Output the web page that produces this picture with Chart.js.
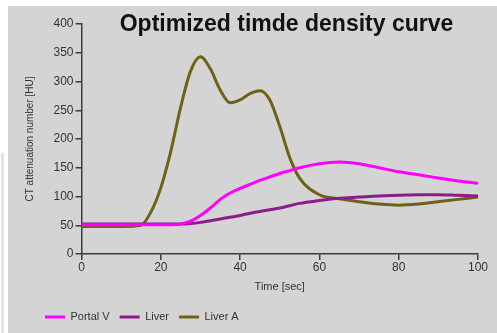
<!DOCTYPE html>
<html>
<head>
<meta charset="utf-8">
<script src="https://cdn.jsdelivr.net/npm/chart.js@4"></script>
<style>
  body { margin: 0; background: #ffffff; width: 497px; height: 333px; overflow: hidden; position: relative; }
  #strip { position: absolute; left: 1px; top: 153px; width: 3px; height: 180px; background: #e3e3e3; }
  #panel { position: absolute; left: 8px; top: 6px; width: 489px; height: 327px; background: #d4d4d4; }
</style>
</head>
<body>
<div id="strip"></div>
<div id="panel"><canvas id="mychart" width="489" height="327"></canvas></div>
<script>
const chartTitle = 'Optimized timde density curve';
const seriesNames = ['Portal V', 'Liver', 'Liver A'];
const seriesColors = ['#ff00ff', '#8c1c8c', '#6e6214'];

// sampling times [sec]
const timeSec = [0, 5, 10, 15, 17.5, 20, 22.5, 25, 27.5, 30, 32.5, 35, 37.5, 40, 42.5, 45, 47.5, 50, 52.5, 55, 60, 65, 70, 75, 80, 85, 90, 95, 100];

// CT values [HU]
const portalV = [51, 51, 51, 51, 51, 51, 51, 52, 57, 67, 80, 95, 106, 114, 121, 128, 134, 140, 145, 150, 157, 160, 157, 150, 143, 138, 132, 127, 123];
const liver   = [52, 52, 52, 52, 52, 52, 52, 52, 53, 55, 58, 61, 64, 67, 71, 74, 77, 80, 84, 88, 93, 97, 99, 101, 102, 103, 103, 102, 101];
const liverA  = [48, 48, 48, 50, 73, 115, 178, 255, 318, 343, 322, 285, 263, 268, 279, 284, 268, 222, 168, 132, 103, 96, 91, 87, 85, 87, 91, 95, 99];

const xTicks = [0, 20, 40, 60, 80, 100];
const yTicks = [0, 50, 100, 150, 200, 250, 300, 350, 400];

function toPoints(values) {
    return values.map((v, i) => ({ x: timeSec[i], y: v }));
}

const titlePlugin = {
    id: 'topTitle',
    afterDraw(chart) {
        const ctx = chart.ctx;
        ctx.save();
        ctx.font = 'bold 23px "Liberation Sans", Arial, sans-serif';
        ctx.fillStyle = '#111111';
        ctx.textAlign = 'center';
        ctx.textBaseline = 'alphabetic';
        ctx.fillText(chartTitle, 278.5, 25);
        ctx.restore();
    }
};

const axisColor = '#3c3c3c';

new Chart(document.getElementById('mychart').getContext('2d'), {
    type: 'line',
    plugins: [titlePlugin],
    data: {
        datasets: [portalV, liver, liverA].map((vals, i) => ({
            label: seriesNames[i],
            data: toPoints(vals),
            borderColor: seriesColors[i],
            backgroundColor: seriesColors[i],
            borderWidth: 3,
            pointRadius: 0,
            cubicInterpolationMode: 'monotone',
            fill: false
        }))
    },
    options: {
        responsive: false,
        animation: false,
        layout: { padding: { left: 27, right: 19, top: 18, bottom: 0.5 } },
        scales: {
            x: {
                type: 'linear',
                min: 0,
                max: 100,
                afterBuildTicks: (scale) => { scale.ticks = xTicks.map(v => ({ value: v })); },
                afterFit: (scale) => { scale.height = 47.5; },
                grid: { drawOnChartArea: false, drawTicks: true, tickLength: 6, color: axisColor, lineWidth: 1.5 },
                border: { display: true, color: axisColor, width: 1.5 },
                ticks: { color: '#333333', padding: 0, font: { size: 12, family: '"Liberation Sans", Arial, sans-serif' } },
                title: {
                    display: true,
                    text: 'Time [sec]',
                    color: '#333333',
                    padding: { top: 0, bottom: 8 },
                    font: { size: 11, family: '"Liberation Sans", Arial, sans-serif' }
                }
            },
            y: {
                min: 0,
                max: 400,
                afterBuildTicks: (scale) => { scale.ticks = yTicks.map(v => ({ value: v })); },
                afterFit: (scale) => { scale.width = 46.5; },
                grid: { drawOnChartArea: false, drawTicks: true, tickLength: 6, color: axisColor, lineWidth: 1.5 },
                border: { display: true, color: axisColor, width: 1.5 },
                ticks: { color: '#333333', padding: 2, font: { size: 12, family: '"Liberation Sans", Arial, sans-serif' } },
                title: {
                    display: true,
                    text: 'CT attenuation number [HU]',
                    color: '#333333',
                    padding: { top: -11, bottom: 0 },
                    font: { size: 10, family: '"Liberation Sans", Arial, sans-serif' }
                }
            }
        },
        plugins: {
            legend: {
                display: true,
                position: 'bottom',
                align: 'start',
                labels: {
                    color: '#333333',
                    padding: 10,
                    usePointStyle: true,
                    pointStyle: 'line',
                    pointStyleWidth: 20,
                    font: { size: 11, family: '"Liberation Sans", Arial, sans-serif' }
                }
            },
            tooltip: { enabled: false }
        }
    }
});
</script>
</body>
</html>
